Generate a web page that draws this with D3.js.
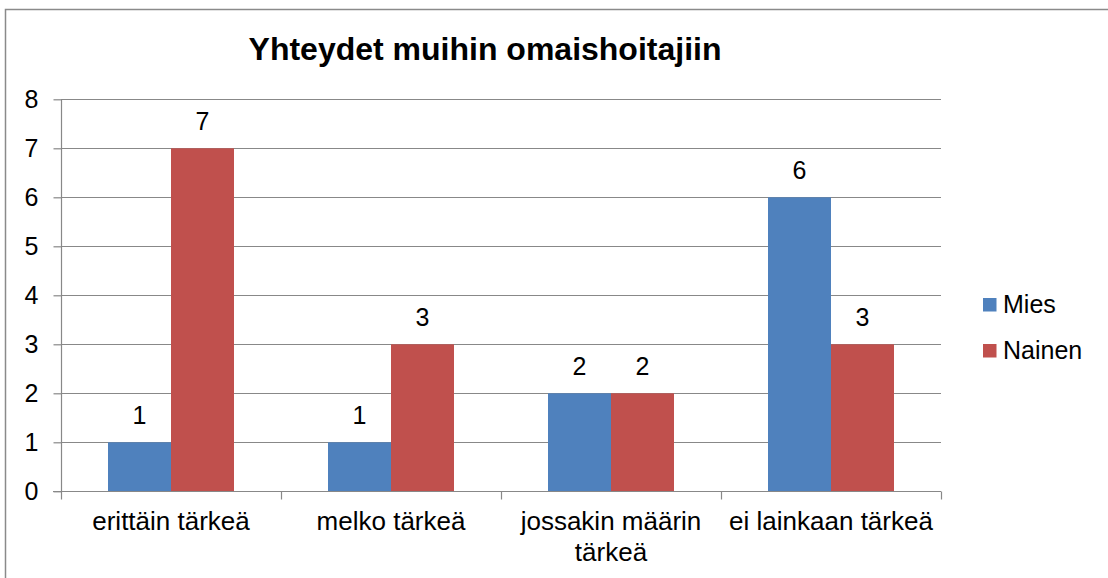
<!DOCTYPE html>
<html>
<head>
<meta charset="utf-8">
<script src="https://cdn.jsdelivr.net/npm/d3@7"></script>
<style>
  html, body { margin: 0; padding: 0; background: #fff; }
  svg { display: block; font-family: "Liberation Sans", Arial, sans-serif; }
</style>
</head>
<body>
<svg id="chart" width="1108" height="578"></svg>
<script>
const title = "Yhteydet muihin omaishoitajiin";
const categories = [["erittäin tärkeä"], ["melko tärkeä"], ["jossakin määrin", "tärkeä"], ["ei lainkaan tärkeä"]];
const seriesNames = ["Mies", "Nainen"];
const mies = [1, 1, 2, 6];
const nainen = [7, 3, 2, 3];
const yTicks = [0, 1, 2, 3, 4, 5, 6, 7, 8];
const colors = ["#4F81BD", "#C0504D"];

(function () {
const svg = d3.select("#chart");
const gridColor = "#888888";

// outer frame
svg.append("rect").attr("x", 5.5).attr("y", 9.5).attr("width", 1200).attr("height", 700)
  .attr("fill", "none").attr("stroke", "#8a8a8a").attr("stroke-width", 1.5);

const pl = 61, pr = 941, pt = 99.3, pb = 491.3;
const catIdx = categories.map((d, i) => i);
const x0 = d3.scaleBand().domain(catIdx).range([pl, pr]).paddingInner(0).paddingOuter(0);
const barW = 63;
const y = d3.scaleLinear().domain([0, 8]).range([pb, pt]);

// gridlines
svg.append("g").selectAll("line").data(yTicks.filter(t => t > 0)).join("line")
  .attr("x1", pl).attr("x2", pr)
  .attr("y1", d => Math.round(y(d)) + 0.5).attr("y2", d => Math.round(y(d)) + 0.5)
  .attr("stroke", gridColor).attr("stroke-width", 1.2);

// bars
const series = [mies, nainen];
series.forEach((vals, si) => {
  svg.append("g").selectAll("rect").data(vals).join("rect")
    .attr("x", (d, i) => x0(i) + x0.bandwidth() / 2 - barW + si * barW)
    .attr("y", d => y(d))
    .attr("width", barW)
    .attr("height", d => y(0) - y(d))
    .attr("fill", colors[si]);
  svg.append("g").selectAll("text").data(vals).join("text")
    .attr("x", (d, i) => x0(i) + x0.bandwidth() / 2 - barW / 2 + si * barW)
    .attr("y", d => y(d) - 18)
    .attr("text-anchor", "middle")
    .attr("font-size", 25)
    .attr("fill", "#000")
    .text(d => d);
});

// y axis
const yAxis = d3.axisLeft(y).tickValues(yTicks).tickSize(8).tickPadding(15).tickFormat(d3.format("d"));
const gy = svg.append("g").attr("transform", `translate(${pl + 0.5},0)`).call(yAxis);
gy.select(".domain").attr("stroke", gridColor).attr("stroke-width", 1.2).attr("d", `M0,${pt}V${pb}`);
gy.selectAll(".tick line").attr("stroke", gridColor).attr("stroke-width", 1.2);
gy.selectAll(".tick text").attr("font-size", 25).attr("fill", "#000")
  .attr("font-family", "'Liberation Sans', Arial, sans-serif");

// x axis
const xAxisY = Math.round(pb) + 0.5;
svg.append("line").attr("x1", pl - 8).attr("x2", pr).attr("y1", xAxisY).attr("y2", xAxisY)
  .attr("stroke", gridColor).attr("stroke-width", 1.2);
const bounds = catIdx.map(i => x0(i)).concat([pr]);
svg.append("g").selectAll("line").data(bounds).join("line")
  .attr("x1", d => Math.round(d) + 0.5).attr("x2", d => Math.round(d) + 0.5)
  .attr("y1", xAxisY).attr("y2", xAxisY + 8)
  .attr("stroke", gridColor).attr("stroke-width", 1.2);

const catLabels = svg.append("g").selectAll("text").data(categories).join("text")
  .attr("x", (d, i) => x0(i) + x0.bandwidth() / 2)
  .attr("y", 530)
  .attr("text-anchor", "middle")
  .attr("font-size", 26)
  .attr("fill", "#000");
catLabels.each(function(lines) {
  const t = d3.select(this);
  lines.forEach((ln, k) => {
    t.append("tspan").attr("x", t.attr("x")).attr("dy", k === 0 ? 0 : 31).text(ln);
  });
});

// title
svg.append("text").attr("x", 485).attr("y", 60).attr("text-anchor", "middle")
  .attr("font-size", 32).attr("font-weight", "bold").attr("fill", "#000").text(title);

// legend
const legend = svg.append("g").selectAll("g").data(seriesNames).join("g")
  .attr("transform", (d, i) => `translate(983,${298 + i * 46})`);
legend.append("rect").attr("width", 13.5).attr("height", 13.5).attr("fill", (d, i) => colors[i]);
legend.append("text").attr("x", 20).attr("y", 15).attr("font-size", 25).attr("fill", "#000").text(d => d);
})();
</script>
</body>
</html>
